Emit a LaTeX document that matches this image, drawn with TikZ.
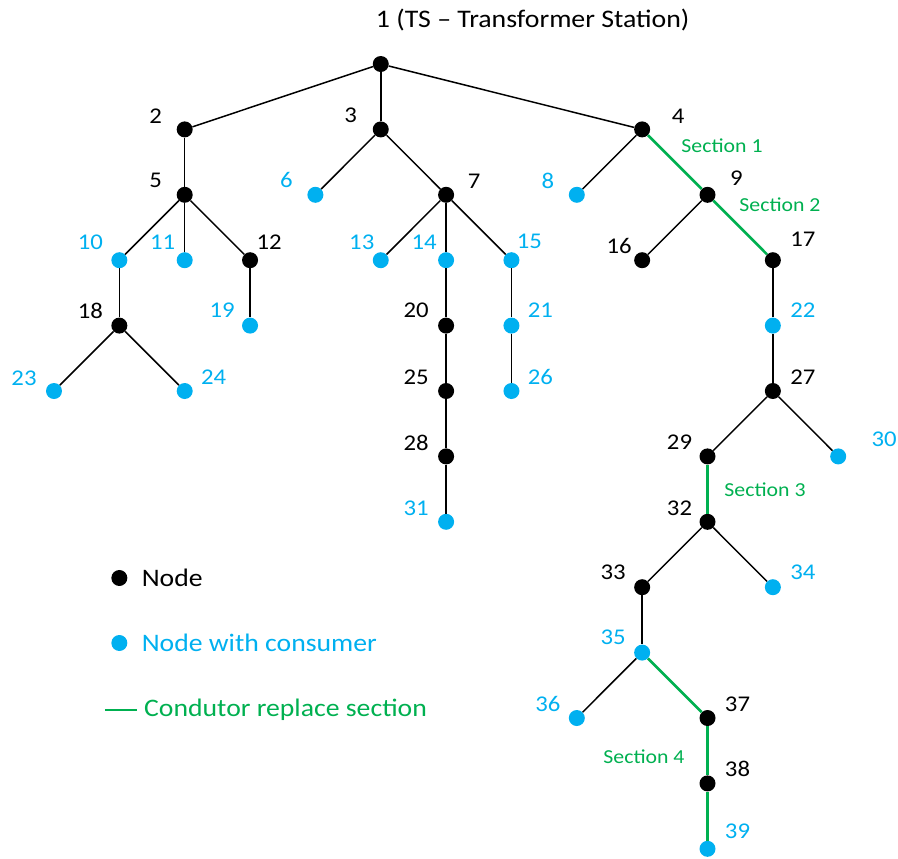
\documentclass[tikz,border=0pt]{standalone}
\usepackage{fontspec}
\setmainfont[FakeStretch=1.1]{Carlito}
\usepackage{tikz}
\usetikzlibrary{positioning}
\definecolor{cblue}{RGB}{0,176,240}
\definecolor{cgreen}{RGB}{0,176,80}
\newcommand{\nmf}{\fontsize{22.5}{26}\selectfont}
\newcommand{\ttf}{\fontsize{25.3}{29}\selectfont}
\newcommand{\scf}{\fontsize{19.8}{23}\selectfont}
\newcommand{\lgf}{\fontsize{25.2}{29}\selectfont}

\begin{document}
\begin{tikzpicture}[
  x=65.35pt, y=-65.4pt,
  dot/.style      = {circle, fill=black, inner sep=0pt, minimum size=16pt},
  cdot/.style     = {dot, fill=cblue},
  dot lbl/.style  = {font=\nmf, inner sep=0pt, text=black},
  cdot lbl/.style = {dot lbl, text=cblue},
  ln/.style       = {line width=1.5pt},
  sec/.style      = {line width=2.6pt, draw=cgreen},
  seclbl/.style   = {font=\scf, inner sep=0pt, text=cgreen},
  lgd/.style      = {font=\lgf, inner sep=0pt, anchor=west}
]
\useasboundingbox (-0.8263,-0.9786) rectangle (12.915,12.1407);

% ---------- root ------------------------------------------------------
\node[dot] (n1) at (5,0) {};
\node[dot lbl, font=\ttf, anchor=west, xshift=-5pt, yshift=44pt] (l1) at (n1) {1 (TS -- Transformer Station)};

% ---------- network nodes: number/style/col/row/label shift ------------
\foreach \n/\s/\x/\y/\dx/\dy in {
  2/dot/2/1/-29/13, 3/dot/5/1/-30/14, 4/dot/9/1/36/13,
  5/dot/2/2/-29/14, 6/cdot/4/2/-29/15, 7/dot/6/2/28/14, 8/cdot/8/2/-29/14, 9/dot/10/2/29/17,
  10/cdot/1/3/-29/18, 11/cdot/2/3/-22/18, 12/dot/3/3/19/18, 13/cdot/5/3/-19/18,
  14/cdot/6/3/-22/18, 15/cdot/7/3/18/19, 16/dot/9/3/-23/14, 17/dot/11/3/30/21,
  18/dot/1/4/-29/15, 19/cdot/3/4/-28/15, 20/dot/6/4/-30/15, 21/cdot/7/4/29/15, 22/cdot/11/4/30/15,
  23/cdot/0/5/-30/13, 24/cdot/2/5/29/14, 25/dot/6/5/-30/14, 26/cdot/7/5/29/14, 27/dot/11/5/30/14,
  28/dot/6/6/-30/14, 29/dot/10/6/-28/14, 30/cdot/12/6/46/17,
  31/cdot/6/7/-30/14, 32/dot/10/7/-28/14,
  33/dot/9/8/-29/15, 34/cdot/11/8/30/15,
  35/cdot/9/9/-29/15,
  36/cdot/8/10/-29/14, 37/dot/10/10/30/14,
  38/dot/10/11/30/15,
  39/cdot/10/12/30/18}{
  \node[\s] (n\n) at (\x,\y) {};
  \node[\s\space lbl, xshift=\dx pt, yshift=\dy pt] (l\n) at (n\n) {\n};
}

% ---------- conductors -------------------------------------------------
\foreach \a/\b in {1/2, 1/3, 1/4, 2/5, 3/6, 3/7, 4/8, 5/10, 5/11, 5/12, 7/13, 7/14, 7/15,
  9/16, 10/18, 12/19, 14/20, 15/21, 17/22, 18/23, 18/24, 20/25, 21/26, 22/27, 25/28,
  27/29, 27/30, 28/31, 32/33, 32/34, 33/35, 35/36}{
  \draw[ln] (n\a) -- (n\b);}
\foreach \a/\b in {4/9, 9/17, 29/32, 35/37, 37/38, 38/39}{
  \draw[sec] (n\a) -- (n\b);}

% ---------- replaced sections -------------------------------------------
\node[seclbl] (s1) at (10.222,1.254) {Section 1};
\node[seclbl] (s2) at (11.109,2.156) {Section 2};
\node[seclbl] (s3) at (10.880,6.514) {Section 3};
\node[seclbl] (s4) at (9.028,10.596) {Section 4};

% ---------- legend ------------------------------------------------------
\node[dot]  (k1) at (1,7.859) {};
\node[lgd, right=14pt of k1] (t1) {Node};
\node[cdot] (k2) at (1,8.853) {};
\node[lgd, right=14pt of k2, text=cblue] (t2) {Node with consumer};
\coordinate (g1) at (0.780,9.878);
\coordinate (g2) at (1.270,9.878);
\draw[sec] (g1) -- (g2);
\node[lgd, right=7pt of g2, text=cgreen] (t3) {Condutor replace section};

\end{tikzpicture}
\end{document}
